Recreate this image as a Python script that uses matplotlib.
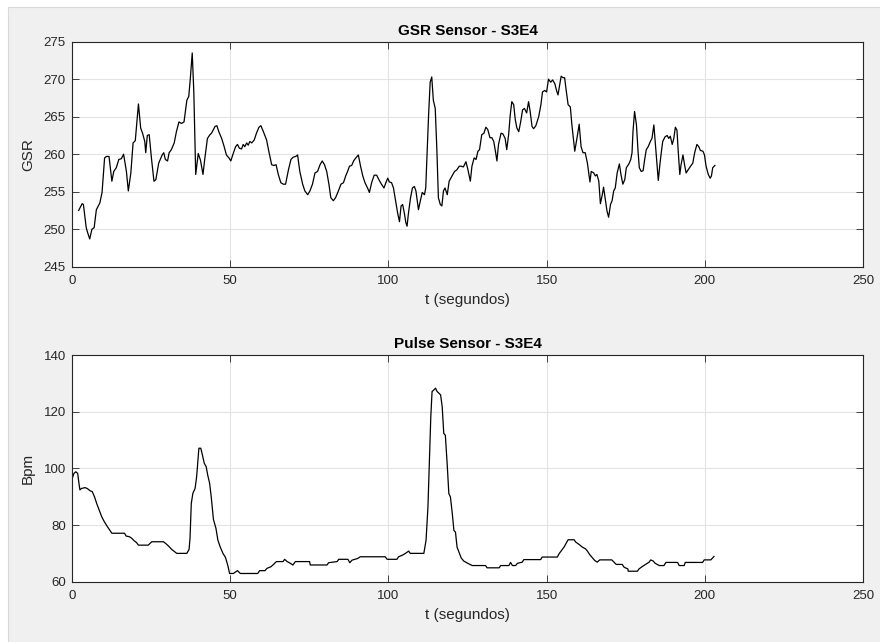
import numpy as np
import matplotlib
matplotlib.use("Agg")
import matplotlib.pyplot as plt
from matplotlib.patches import Rectangle

nan = np.nan

# GSR signal: time (s) and sensor reading
gsr_t = [
    0.0, 0.1, 1.0, 2.1, 3.2, 3.6, 4.5, 4.9, 5.6, 6.3,
    7.0, 7.7, 8.8, 9.5, 10.3, 10.9, 11.7, 12.6, 13.2, 14.0,
    14.8, 15.6, 16.3, 17.2, 17.8, 18.6, 19.3, 20.0, 21.0, 21.7,
    22.3, 23.0, 23.3, 23.8, 24.4, 25.1, 25.9, 26.5, 27.4, 28.5,
    29.0, 29.5, 30.2, 30.7, 31.4, 32.3, 33.0, 33.8, 34.6, 35.4,
    36.3, 36.9, 37.4, 38.0, 38.5, 39.1, 39.9, 40.6, 41.4, 42.0,
    42.8, 43.6, 44.1, 45.2, 45.8, 46.4, 47.3, 48.1, 48.8, 49.6,
    50.2, 50.8, 51.7, 52.3, 52.9, 53.6, 54.1, 54.6, 55.2, 55.7,
    56.2, 56.8, 57.6, 58.3, 59.1, 59.7, 60.4, 61.5, 62.2, 63.1,
    63.8, 64.5, 65.2, 66.0, 66.8, 67.5, 68.4, 69.2, 69.9, 70.7,
    71.3, 72.0, 72.9, 73.6, 74.5, 75.2, 76.0, 76.8, 77.6, 78.4,
    79.1, 79.8, 80.5, 81.2, 81.8, 82.6, 83.3, 84.2, 85.0, 85.8,
    86.5, 87.1, 87.7, 88.4, 89.0, 89.7, 90.5, 91.2, 91.9, 92.6,
    93.4, 94.0, 94.7, 95.5, 96.3, 97.0, 97.8, 98.6, 99.2, 99.8,
    100.3, 101.0, 101.6, 102.1, 102.9, 103.5, 104.0, 104.5, 105.1, 105.5,
    105.9, 106.3, 107.0, 107.6, 108.2, 108.7, 109.5, 110.1, 110.7, 111.4,
    111.8, 112.2, 112.7, 113.2, 113.7, 114.2, 114.8, 115.3, 115.8, 116.4,
    116.9, 117.4, 117.9, 118.6, 119.2, 120.1, 120.9, 121.6, 122.4, 123.0,
    123.7, 124.5, 125.1, 125.9, 126.4, 127.1, 127.7, 128.3, 128.8, 129.5,
    130.2, 130.8, 131.4, 132.1, 132.7, 133.3, 133.9, 134.3, 134.8, 135.6,
    136.2, 136.9, 137.4, 138.0, 138.5, 139.0, 139.6, 140.1, 140.6, 141.2,
    141.8, 142.4, 143.0, 143.7, 144.3, 144.8, 145.4, 145.9, 146.6, 147.5,
    148.2, 148.7, 149.4, 150.0, 150.6, 151.3, 151.9, 152.6, 153.2, 153.6,
    154.2, 154.6, 155.2, 155.7, 156.1, 156.8, 157.5, 158.0, 158.9, 159.7,
    160.3, 160.9, 161.5, 162.2, 162.9, 163.7, 164.1, 164.9, 165.4, 165.9,
    166.5, 167.0, 167.6, 168.0, 168.6, 169.1, 169.6, 170.2, 170.7, 171.2,
    171.7, 172.3, 173.0, 173.5, 174.1, 174.7, 175.2, 176.0, 176.6, 177.0,
    177.3, 177.8, 178.4, 178.9, 179.3, 179.9, 180.5, 181.0, 181.5, 182.1,
    182.8, 183.3, 183.9, 184.4, 184.9, 185.3, 185.8, 186.3, 186.7, 187.4,
    188.1, 188.6, 189.1, 189.7, 190.2, 190.7, 191.2, 191.6, 192.1, 192.5,
    193.1, 193.6, 194.1, 194.7, 195.5, 196.2, 196.8, 197.5, 198.1, 198.6,
    199.4, 199.9, 200.4, 201.1, 201.7, 202.1, 202.5, 203.2,
]
gsr_val = [
    250.0, 249.0, nan, 252.5, 253.4, 253.3, 250.2, 249.6, 248.7, 250.0,
    250.2, 252.6, 253.5, 254.9, 259.5, 259.7, 259.7, 256.4, 257.7, 258.2,
    259.3, 259.4, 260.0, 257.7, 255.1, 257.5, 261.5, 261.8, 266.7, 263.5,
    262.8, 261.7, 260.2, 262.5, 262.6, 259.5, 256.4, 256.6, 258.8, 259.9,
    260.2, 259.3, 259.1, 260.2, 260.6, 261.5, 263.0, 264.3, 264.1, 264.3,
    267.2, 267.7, 270.1, 273.5, 268.3, 257.3, 260.1, 259.2, 257.3, 259.5,
    262.1, 262.6, 262.8, 263.7, 263.8, 263.0, 262.1, 261.0, 259.9, 259.5,
    259.1, 259.9, 261.0, 261.3, 260.8, 260.7, 261.3, 261.0, 261.5, 261.2,
    261.7, 261.5, 261.9, 262.8, 263.6, 263.8, 263.1, 261.9, 260.4, 258.6,
    258.5, 258.6, 257.3, 256.2, 256.0, 256.0, 257.9, 259.3, 259.6, 259.7,
    259.9, 257.7, 256.0, 255.1, 254.6, 255.1, 256.0, 257.5, 257.7, 258.6,
    259.1, 258.6, 257.7, 256.0, 254.2, 253.8, 254.2, 255.1, 256.0, 256.2,
    257.1, 257.7, 258.4, 258.5, 259.1, 259.5, 259.9, 258.4, 257.1, 256.2,
    255.5, 254.9, 256.2, 257.2, 257.2, 256.6, 256.0, 255.5, 256.2, 256.8,
    256.3, 256.2, 255.5, 254.2, 252.2, 251.0, 253.1, 253.3, 252.0, 250.9,
    250.4, 252.0, 254.2, 255.5, 255.7, 255.1, 252.6, 253.8, 254.9, 254.6,
    255.5, 259.9, 265.2, 269.6, 270.3, 267.2, 266.1, 260.8, 254.2, 253.3,
    253.1, 255.1, 255.5, 254.6, 256.4, 257.1, 257.7, 257.9, 258.4, 258.4,
    258.3, 259.0, 258.0, 256.4, 258.4, 259.5, 259.3, 260.4, 260.6, 262.6,
    262.8, 263.6, 263.3, 262.2, 262.2, 261.7, 260.2, 259.1, 261.3, 262.8,
    262.7, 262.1, 260.6, 262.6, 265.2, 267.0, 266.6, 264.6, 263.5, 263.0,
    264.3, 265.9, 266.1, 265.5, 267.0, 265.7, 263.7, 263.4, 263.8, 265.0,
    266.6, 268.3, 268.5, 268.3, 270.0, 269.6, 269.9, 269.4, 268.4, 267.9,
    269.4, 270.4, 270.2, 270.2, 268.8, 266.6, 266.3, 263.9, 260.4, 262.4,
    264.0, 261.0, 260.2, 260.2, 258.8, 256.3, 257.7, 257.5, 257.1, 257.3,
    256.4, 253.4, 254.6, 255.6, 253.8, 252.4, 251.6, 253.3, 253.8, 255.1,
    255.5, 257.5, 258.7, 257.3, 256.0, 256.6, 258.2, 258.7, 259.3, 260.2,
    263.0, 265.7, 263.9, 260.4, 258.2, 257.7, 257.8, 259.3, 260.6, 261.0,
    261.7, 262.1, 263.9, 261.3, 258.6, 256.5, 258.6, 260.4, 261.7, 262.3,
    262.5, 262.1, 262.4, 261.3, 262.1, 263.6, 263.2, 260.4, 257.3, 258.6,
    259.9, 258.6, 257.5, 257.9, 258.4, 258.8, 260.2, 261.3, 261.0, 260.5,
    260.4, 259.9, 258.4, 257.3, 256.8, 257.1, 258.2, 258.5,
]

# Pulse signal: time (s) and heart rate (bpm)
pulse_t = [
    0.0, 0.1, 0.6, 1.2, 1.8, 2.2, 2.5, 3.0, 4.1, 4.8,
    5.7, 6.4, 7.1, 7.8, 8.6, 9.4, 10.2, 11.2, 12.6, 16.6,
    17.1, 18.1, 18.9, 19.6, 20.4, 21.0, 24.1, 25.2, 28.9, 29.6,
    30.5, 31.5, 33.1, 36.3, 37.0, 37.3, 37.7, 38.2, 38.9, 39.4,
    39.8, 40.1, 40.7, 41.1, 41.8, 42.4, 42.9, 43.5, 44.0, 44.7,
    45.5, 46.1, 46.8, 47.7, 48.5, 49.3, 49.8, 51.0, 52.3, 53.2,
    58.7, 59.3, 61.0, 61.6, 62.9, 63.7, 64.6, 66.7, 67.2, 68.0,
    69.0, 69.8, 70.6, 75.1, 75.3, 80.6, 81.1, 83.8, 84.3, 87.2,
    87.8, 88.5, 90.3, 91.1, 99.0, 99.6, 102.7, 103.2, 104.5, 105.4,
    106.4, 106.9, 111.2, 111.9, 112.5, 113.0, 113.4, 113.8, 114.4, 114.9,
    115.4, 116.0, 116.5, 117.0, 117.5, 118.0, 118.6, 119.1, 119.6, 120.2,
    120.7, 121.2, 121.7, 122.3, 123.0, 123.8, 124.9, 126.5, 130.7, 131.2,
    135.0, 135.5, 138.1, 138.6, 139.2, 140.2, 140.8, 142.3, 142.8, 148.1,
    148.6, 153.4, 153.9, 154.7, 155.5, 156.2, 156.8, 158.7, 159.2, 160.2,
    161.3, 162.3, 162.9, 163.6, 164.5, 165.2, 166.0, 166.8, 170.6, 171.3,
    172.0, 173.9, 174.5, 175.7, 175.8, 178.7, 179.2, 180.3, 181.3, 182.4,
    182.9, 183.7, 184.3, 185.6, 187.1, 187.7, 191.4, 191.9, 193.5, 193.8,
    199.3, 199.8, 201.9, 202.9,
]
pulse_bpm = [
    94.1, 96.5, 98.2, 98.8, 98.2, 94.7, 92.4, 92.9, 93.2, 92.9,
    92.1, 91.8, 90.0, 87.6, 85.3, 82.9, 81.2, 79.4, 77.1, 77.1,
    76.1, 75.9, 75.3, 74.5, 73.8, 72.9, 72.9, 74.1, 74.1, 73.5,
    72.6, 71.4, 70.0, 70.0, 71.4, 75.3, 87.6, 91.2, 92.9, 97.1,
    102.9, 107.1, 107.1, 105.3, 101.8, 100.6, 97.6, 94.7, 90.0, 82.0,
    78.8, 74.7, 72.4, 70.0, 68.6, 65.5, 62.9, 62.9, 63.9, 62.9,
    62.9, 63.9, 63.9, 64.7, 65.3, 66.1, 67.1, 67.1, 67.9, 67.1,
    66.5, 65.9, 67.1, 67.1, 65.9, 65.9, 66.7, 67.1, 67.9, 67.9,
    66.7, 67.6, 68.2, 68.8, 68.8, 67.9, 67.9, 68.8, 69.4, 70.0,
    70.8, 70.0, 70.0, 74.6, 86.4, 104.1, 118.2, 127.1, 127.7, 128.3,
    127.1, 126.5, 125.9, 121.8, 112.3, 111.7, 101.1, 91.1, 89.9, 84.0,
    78.1, 77.5, 72.2, 70.4, 68.4, 67.3, 66.6, 65.7, 65.7, 64.9,
    64.9, 65.7, 65.7, 66.8, 65.7, 65.7, 66.5, 66.9, 67.8, 67.8,
    68.7, 68.7, 69.8, 71.0, 72.2, 73.6, 74.8, 74.8, 74.0, 73.2,
    72.2, 71.6, 70.8, 69.6, 68.4, 67.5, 66.9, 67.7, 67.7, 66.9,
    66.1, 66.1, 65.1, 64.5, 63.7, 63.7, 64.5, 65.4, 66.1, 66.9,
    67.7, 67.3, 66.5, 65.7, 65.7, 66.8, 66.8, 65.7, 65.7, 66.8,
    66.8, 67.7, 67.7, 68.9,
]

titles = ["GSR Sensor - S3E4", "Pulse Sensor - S3E4"]
ylabels = ["GSR", "Bpm"]
xlabel = "t (segundos)"
x_ticks = [0, 50, 100, 150, 200, 250]
gsr_ticks = [245, 250, 255, 260, 265, 270, 275]
pulse_ticks = [60, 80, 100, 120, 140]

plt.rcParams['font.family'] = ['Liberation Sans', 'DejaVu Sans']

W, H = 880, 642
fig = plt.figure(figsize=(W / 100, H / 100), dpi=100, facecolor='white')
fig.add_artist(Rectangle((8 / W, -0.01), 1.0, 1 - 7 / H + 0.01,
                         transform=fig.transFigure, facecolor='#f0f0f0',
                         edgecolor='#d9d9d9', linewidth=0.8, zorder=-10))

ink = '#262626'


def style(ax, yticks, title, ylabel):
    ax.set_facecolor('white')
    ax.set_xlim(0, 250)
    ax.set_ylim(yticks[0], yticks[-1])
    ax.set_xticks(x_ticks)
    ax.set_yticks(yticks)
    ax.grid(True, color='#e3e3e3', linewidth=0.8)
    ax.set_axisbelow(True)
    for s in ax.spines.values():
        s.set_color(ink)
        s.set_linewidth(0.8)
    ax.tick_params(direction='in', length=5, width=0.6, top=True, right=True,
                   labelsize=9.5, colors=ink, labelcolor=ink)
    ax.tick_params(axis='x', pad=6)
    ax.tick_params(axis='y', pad=4.5)
    ax.set_title(title, fontsize=11, fontweight='bold', color='black', pad=5)
    ax.set_xlabel(xlabel, fontsize=11, color=ink, labelpad=4)
    ax.set_ylabel(ylabel, fontsize=11, color=ink, labelpad=6)


ax1 = fig.add_axes([72 / W, 1 - 266.7 / H, 791 / W, 225 / H])
ax1.plot(gsr_t, gsr_val, color='black', linewidth=0.9)
style(ax1, gsr_ticks, titles[0], ylabels[0])

ax2 = fig.add_axes([72 / W, 1 - 581.7 / H, 791 / W, 226.7 / H])
ax2.plot(pulse_t, pulse_bpm, color='black', linewidth=0.9)
style(ax2, pulse_ticks, titles[1], ylabels[1])

fig.savefig('out.png', dpi=100, facecolor=fig.get_facecolor())
